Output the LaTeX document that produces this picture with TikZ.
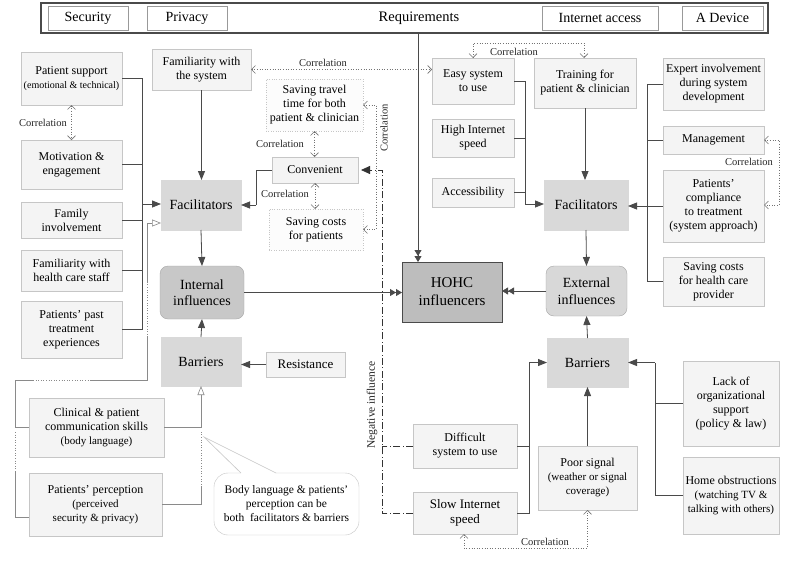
\documentclass[tikz,border=0pt]{standalone}
\usepackage{fontspec}
\setmainfont{Liberation Serif}
\usetikzlibrary{arrows.meta}
\definecolor{bd}{HTML}{C6C6C6}
\definecolor{lf}{HTML}{F4F4F4}
\definecolor{gf}{HTML}{D9D9D9}
\definecolor{inf}{HTML}{C8C8C8}
\definecolor{exf}{HTML}{D8D8D8}
\definecolor{hf}{HTML}{BDBDBD}
\definecolor{ln}{HTML}{4A4A4A}
\definecolor{gl}{HTML}{8A8A8A}
\newcommand\bx[7]{\node[#1,minimum width={#5pt-#3pt},minimum height={#6pt-#4pt}] (#2) at ({(#3+#5)/2},{(#4+#6)/2}) {#7};}
\newcommand\fz[2]{\fontsize{#1}{#2}\selectfont}
\tikzset{
  lbox/.style={draw=bd,fill=lf,align=center,inner sep=1pt,outer sep=0pt,font=\fz{12}{14}},
  dbox/.style={lbox,draw=bd,dotted,fill=white!70!lf},
  gbox/.style={draw=gf,fill=gf,align=center,inner sep=1pt,outer sep=0pt,font=\fz{14}{16}},
  rbox/.style={draw=gray!70,rounded corners=8pt,align=center,inner sep=1pt,outer sep=0pt,font=\fz{14}{16.5}},
  hbox/.style={draw=ln,fill=hf,line width=0.9pt,align=center,inner sep=1pt,outer sep=0pt,font=\fz{15}{18}},
  tbox/.style={draw=gray!80,fill=white,align=center,inner sep=1pt,outer sep=0pt,font=\fz{14}{16}},
  conn/.style={draw=ln,line width=0.8pt},
  arr/.style={-{Triangle[length=9pt,width=7pt]}},
  darr/.style={-{Triangle[length=6pt,width=7pt]Triangle[length=6pt,width=7pt]}},
  glin/.style={draw=gl,line width=0.6pt},
  corr/.style={draw=gray!90!black,line width=0.6pt,dotted,{Straight Barb[length=4pt,width=8pt]}-{Straight Barb[length=4pt,width=8pt]}},
  clab/.style={font=\fz{10.5}{12},text=black!85,inner sep=1pt},
  neg/.style={draw=black!80,line width=0.8pt,dash pattern=on 7pt off 2.5pt on 0.8pt off 2.5pt},
}
\begin{document}
\begin{tikzpicture}[x=1pt,y=-1pt]
\useasboundingbox[fill=white] (0,0) rectangle (799,565);
% requirements
\bx{tbox,draw=ln,line width=1.1pt}{req}{41}{3}{768}{33}{}
\node[font=\fz{14.5}{16}] (reqt) at (419,18) {Requirements};
\bx{tbox}{sec}{48}{6}{128}{30}{Security}
\bx{tbox}{pri}{147}{6}{227}{30}{Privacy}
\bx{tbox}{ina}{542}{6}{658}{30}{Internet access}
\bx{tbox}{dev}{682}{6}{763}{30}{A Device}
% left column
\bx{lbox}{ps}{21}{52}{122}{105}{Patient support\\{\fz{10}{12}(emotional \& technical)}}
\bx{lbox}{me}{21}{140}{122}{189}{Motivation \&\\engagement}
\bx{lbox}{fi}{21}{202}{122}{238}{Family\\involvement}
\bx{lbox}{fh}{21}{250}{122}{291}{Familiarity with\\health care staff}
\bx{lbox}{pt}{21}{301}{122}{358}{Patients’ past\\treatment\\experiences}
\bx{lbox}{cl}{29}{398}{164}{457}{Clinical \& patient\\communication skills\\{\fz{11}{14}(body language)}}
\bx{lbox}{pp}{29}{473}{162}{536}{Patients’ perception\\{\fz{11}{14}(perceived}\\{\fz{11}{14}security \& privacy)}}
% middle left
\bx{lbox}{fs}{152}{49}{251}{90}{Familiarity with\\the system}
\bx{gbox}{facL}{161}{180}{241}{230}{Facilitators}
\bx{rbox,fill=inf}{inL}{160}{266}{244}{319}{Internal\\influences}
\bx{gbox}{barL}{161}{337}{241}{386}{Barriers}
\bx{lbox,font=\fz{13}{15}}{res}{266}{352}{345}{377}{Resistance}
\bx{dbox}{stt}{266}{79}{363}{131}{Saving travel\\time for both\\patient \& clinician}
\bx{lbox}{conv}{272}{157}{358}{183}{Convenient}
\bx{dbox}{sc}{269}{209}{363}{250}{Saving costs\\for patients}
% centre
\bx{hbox}{hohc}{402}{262}{502}{322}{HOHC\\influencers}
% middle right
\bx{lbox}{easy}{432}{58}{514}{104}{Easy system\\to use}
\bx{lbox}{train}{534}{58}{636}{108}{Training for\\patient \& clinician}
\bx{lbox}{his}{432}{119}{514}{157}{High Internet\\speed}
\bx{lbox}{acc}{432}{178}{514}{207}{Accessibility}
\bx{gbox}{facR}{544}{180}{628}{230}{Facilitators}
\bx{rbox,fill=exf}{exR}{546}{266}{627}{316}{External\\influences}
\bx{gbox}{barR}{547}{338}{628}{387}{Barriers}
\bx{lbox}{diff}{413}{424}{517}{468}{Difficult\\system to use}
\bx{lbox,font=\fz{13}{15}}{slow}{413}{492}{517}{534}{Slow Internet\\speed}
\bx{lbox}{poor}{538}{446}{637}{510}{Poor signal\\{\fz{11}{13}(weather or signal}\\{\fz{11}{13}coverage)}}
% right
\bx{lbox}{exp}{663}{58}{764}{110}{Expert involvement\\during system\\development}
\bx{lbox}{man}{663}{126}{764}{154}{Management}
\bx{lbox}{comp}{663}{170}{764}{242}{Patients’\\compliance\\to treatment\\(system approach)}
\bx{lbox}{scp}{663}{257}{764}{306}{Saving costs\\for health care\\provider}
\bx{lbox}{lack}{683}{361}{779}{446}{Lack of\\organizational\\support\\(policy \& law)}
\bx{lbox}{home}{683}{457}{779}{534}{Home obstructions\\{\fz{11}{14}(watching TV \&}\\{\fz{11}{14}talking with others)}}
% callout
\node[draw=bd,fill=white,rounded corners=14pt,minimum width=145pt,minimum height=62pt,align=center,inner sep=1pt,font=\fz{11.5}{14}] (note) at (286.5,504) {Body language \& patients’\\perception can be\\both\ \ facilitators \& barriers};
\coordinate (tip) at (204,437);
\fill[white] (241,471.5) rectangle (276,474.5);
\draw[draw=bd,line width=0.6pt] (241,473) -- (tip) -- (276,473);
% ---- connectors left
\coordinate (busL) at (142,204);
\draw[conn] (ps.east) -| (busL);
\draw[conn] (me.east) -| (busL);
\draw[conn] (fi.east) -| (busL);
\draw[conn] (fh.east) -| (busL);
\draw[conn] (pt.east) -| (busL);
\draw[conn,arr] (busL) -- (facL.west |- busL);
\draw[conn,arr] (fs.south) -- (fs.south |- facL.north);
\draw[conn,arr] (facL.south) -- (inL.north);
\draw[conn,arr] (barL.north) -- (inL.south);
\draw[conn,arr] (res.west) -- (barL.east |- res.west);
\draw[conn,darr] (inL.east) -- (hohc.west |- inL.east);
\coordinate (cvb) at (256,205);
\draw[conn] (conv.west) -| (cvb);
\draw[conn,arr] (cvb) -- (facL.east);
% gray both-ways lines
\coordinate (g1) at (15,380);
\coordinate (g2) at (147,380);
\coordinate (g3) at (147,223);
\draw[glin] (cl.west) -| (g1) -- (33,380);
\draw[glin,dotted] (33,380) -- (90,380);
\draw[glin] (90,380) -- (g2) -- (147,337);
\draw[glin,dotted] (147,337) -- (147,283);
\draw[glin,-{Triangle[open,length=9pt,width=7pt]}] (147,283) -- (g3) -- (facL.west |- g3);
\draw[glin,dotted] (15,432) -- (15,471);
\draw[glin] (29,517) -- (15,517) -- (15,471);
\draw[glin,-{Triangle[open,length=9pt,width=7pt]}] (cl.east) -| (barL.south);
\draw[glin] (pp.east) -- (201,504.5) -- (201,487);
\draw[glin,dotted] (201,487) -- (201,432);
% correlations left
\draw[corr] (ps.south) -- (me.north);
\node[clab] (cl1) at (43,123) {Correlation};
\draw[corr] (stt.south) -- (stt.south |- conv.north);
\node[clab] (cl2) at (280,144) {Correlation};
\draw[corr] (conv.south) -- (conv.south |- sc.north);
\node[clab] (cl3) at (285,194) {Correlation};
\coordinate (c6) at (376,229.5);
\draw[corr] (stt.east) -| (c6) -- (sc.east);
\node[clab,rotate=90] (cl4) at (384,128) {Correlation};
\draw[corr] (fs.east) -- (easy.west |- fs.east);
\node[clab] (cl5) at (323,63) {Correlation};
\coordinate (c1) at (473,43);
\coordinate (c2) at (584,43);
\draw[corr] (c1 |- easy.north) -- (c1) -- (c2) -- (c2 |- train.north);
\node[clab] (cl6) at (514,52) {Correlation};
\coordinate (c3) at (779,140);
\coordinate (c4) at (779,205);
\draw[corr] (man.east) -- (c3) -- (c4) -- (c4 -| comp.east);
\node[clab] (cl7) at (749,162) {Correlation};
\coordinate (c7) at (464,548);
\coordinate (c8) at (587.5,548);
\draw[corr] (c7 |- slow.south) -- (c7) -- (c8) -- (c8 |- poor.south);
\node[clab] (cl8) at (545,542) {Correlation};
% requirements line
\coordinate (rq) at (418,33);
\draw[conn,darr] (rq) -- (rq |- hohc.north);
% negative influence
\coordinate (ng) at (382,170);
\draw[neg,-{Triangle[length=9pt,width=8pt,sep=3pt]}] (slow.west) -| (ng) -- (conv.east);
\draw[neg] (diff.west) -- (diff.west -| ng);
\node[clab,rotate=90,font=\fz{11.5}{13}] (nl) at (372,405) {Negative influence};
% right facilitators
\coordinate (busR1) at (525,204);
\draw[conn] (easy.east) -| (busR1);
\draw[conn] (his.east) -| (busR1);
\draw[conn] (acc.east) -| (busR1);
\draw[conn,arr] (busR1) -- (facR.west |- busR1);
\draw[conn,arr] (train.south) -- (train.south |- facR.north);
\draw[conn,arr] (facR.south) -- (exR.north);
\draw[conn,arr] (barR.north) -- (exR.south);
\draw[conn,darr] (exR.west) -- (hohc.east |- exR.west);
\coordinate (busR2) at (647,205);
\draw[conn] (exp.west) -| (busR2);
\draw[conn] (man.west) -| (busR2);
\draw[conn] (scp.west) -| (busR2);
\draw[conn,arr] (comp.west) -- (facR.east |- comp.west);
% right barriers
\coordinate (busR3) at (529,362.5);
\draw[conn] (diff.east) -| (busR3);
\draw[conn] (slow.east) -| (busR3);
\draw[conn,arr] (busR3) -- (barR.west);
\coordinate (busR4) at (655,362.5);
\draw[conn] (lack.west) -| (busR4);
\draw[conn] (home.west) -| (busR4);
\draw[conn,arr] (busR4) -- (barR.east);
\draw[conn,arr] (poor.north) -- (barR.south);
\end{tikzpicture}
\end{document}
